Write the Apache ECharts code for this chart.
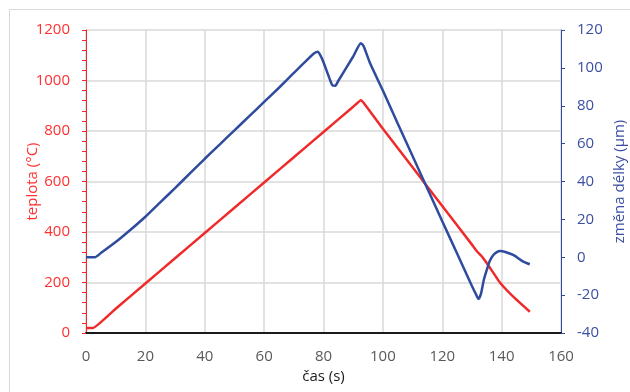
<!DOCTYPE html>
<html>
<head>
<meta charset="utf-8">
<script src="https://cdn.jsdelivr.net/npm/echarts@6/dist/echarts.min.js"></script>
<style>
html,body{margin:0;padding:0;background:#fff;}
#c{width:630px;height:392px;}
</style>
</head>
<body>
<div id="c"></div>
<script>
// time axis ticks
var xTicks = [0, 20, 40, 60, 80, 100, 120, 140, 160];
// temperature series (teplota, °C)
var tempTime = [0, 2.4, 10, 20, 30, 40, 50, 60, 70, 80, 90, 92.6, 93.5, 100, 110, 120, 130, 131.8, 133, 134.5, 137, 139.4, 143.9, 149.5];
var tempVals = [20, 20, 96, 196, 296, 396, 496, 596, 696, 796, 896, 922, 912, 809, 656, 503, 350, 322, 308, 285, 242, 200, 144, 84];
// length change series (změna délky, µm)
var lenTime = [0, 3, 5, 10, 15, 20, 25, 30, 35, 40, 45, 50, 55, 60, 65, 70, 75, 77, 78, 79, 80, 81.6, 83, 84, 85, 90, 92.6, 93.5, 95.7, 100, 105, 110, 114.2, 120, 125, 130, 131.5, 132.2, 133, 134, 135, 136, 137.2, 138.5, 139.5, 141, 143.9, 147, 149.5];
var lenVals = [0, 0, 2.2, 8, 14.5, 21.4, 29, 36.5, 44.3, 52, 59.5, 67, 74.5, 82, 89.5, 97.3, 105, 107.8, 108.5, 106.5, 103, 96.2, 90.8, 90.6, 93.2, 106, 113, 111.5, 102.4, 88, 70.6, 53.5, 39, 19, 2, -15.2, -20, -22, -19.5, -12, -6.7, -2, 1.2, 2.8, 3.3, 2.9, 1.2, -2, -3.7];

function pairs(t, v) { return t.map(function (x, i) { return [x, v[i]]; }); }
function plain(v) { return String(v); }

var RED = '#f02a2a', RED_TXT = '#ff3030';
var BLUE = '#2f4b9e', BLUE_TXT = '#3a4fa3';
var FONT = '"Open Sans", "Liberation Sans", sans-serif';

var chart = echarts.init(document.getElementById('c'), null, {renderer: 'canvas'});
chart.setOption({
  animation: false,
  backgroundColor: '#ffffff',
  graphic: [{
    type: 'rect', z: -10, silent: true,
    shape: {x: 9.5, y: 9.5, width: 700, height: 500},
    style: {fill: 'none', stroke: '#d9d9d9', lineWidth: 1}
  }],
  grid: {left: 86, right: 69, top: 30, bottom: 59, containLabel: false, outerBoundsMode: 'none'},
  xAxis: {
    type: 'value', min: 0, max: 160, interval: 20,
    name: 'čas (s)', nameLocation: 'middle', nameGap: 36, nameMoveOverlap: false,
    nameTextStyle: {color: '#1a1a1a', fontSize: 15, fontFamily: FONT},
    axisLine: {show: true, onZero: false, lineStyle: {color: '#1a1a1a', width: 2}},
    axisTick: {show: false},
    axisLabel: {color: '#595959', fontSize: 15, fontFamily: FONT, margin: 16, formatter: plain},
    splitLine: {show: true, lineStyle: {color: '#d9d9d9', width: 1.5}}
  },
  yAxis: [{
    type: 'value', min: 0, max: 1200, interval: 200, position: 'left',
    name: 'teplota (°C)', nameLocation: 'middle', nameGap: 46, nameRotate: 90, nameMoveOverlap: false,
    nameTextStyle: {color: RED_TXT, fontSize: 15, fontFamily: FONT},
    axisLine: {show: true, lineStyle: {color: RED, width: 1}},
    axisTick: {show: true, inside: false, length: 4, lineStyle: {color: RED}},
    minorTick: {show: true, splitNumber: 5, length: 4, lineStyle: {color: RED}},
    axisLabel: {color: RED_TXT, fontSize: 15, fontFamily: FONT, margin: 16, formatter: plain},
    splitLine: {show: true, lineStyle: {color: '#d9d9d9', width: 1.5}}
  }, {
    type: 'value', min: -40, max: 120, interval: 20, position: 'right',
    name: 'změna délky (µm)', nameLocation: 'middle', nameGap: 51, nameRotate: 90, nameMoveOverlap: false,
    nameTextStyle: {color: BLUE_TXT, fontSize: 15, fontFamily: FONT},
    axisLine: {show: true, lineStyle: {color: BLUE, width: 1}},
    axisTick: {show: true, inside: false, length: 4, lineStyle: {color: BLUE}},
    axisLabel: {color: BLUE_TXT, fontSize: 15, fontFamily: FONT, margin: 16, formatter: plain},
    splitLine: {show: false}
  }],
  series: [{
    name: 'teplota', type: 'line', yAxisIndex: 0,
    data: pairs(tempTime, tempVals),
    showSymbol: false, symbol: 'none', smooth: 0.1,
    lineStyle: {color: RED, width: 2.5}, z: 3
  }, {
    name: 'změna délky', type: 'line', yAxisIndex: 1,
    data: pairs(lenTime, lenVals),
    showSymbol: false, symbol: 'none', smooth: 0.2,
    lineStyle: {color: BLUE, width: 2.5}, z: 4
  }]
});
</script>
</body>
</html>
